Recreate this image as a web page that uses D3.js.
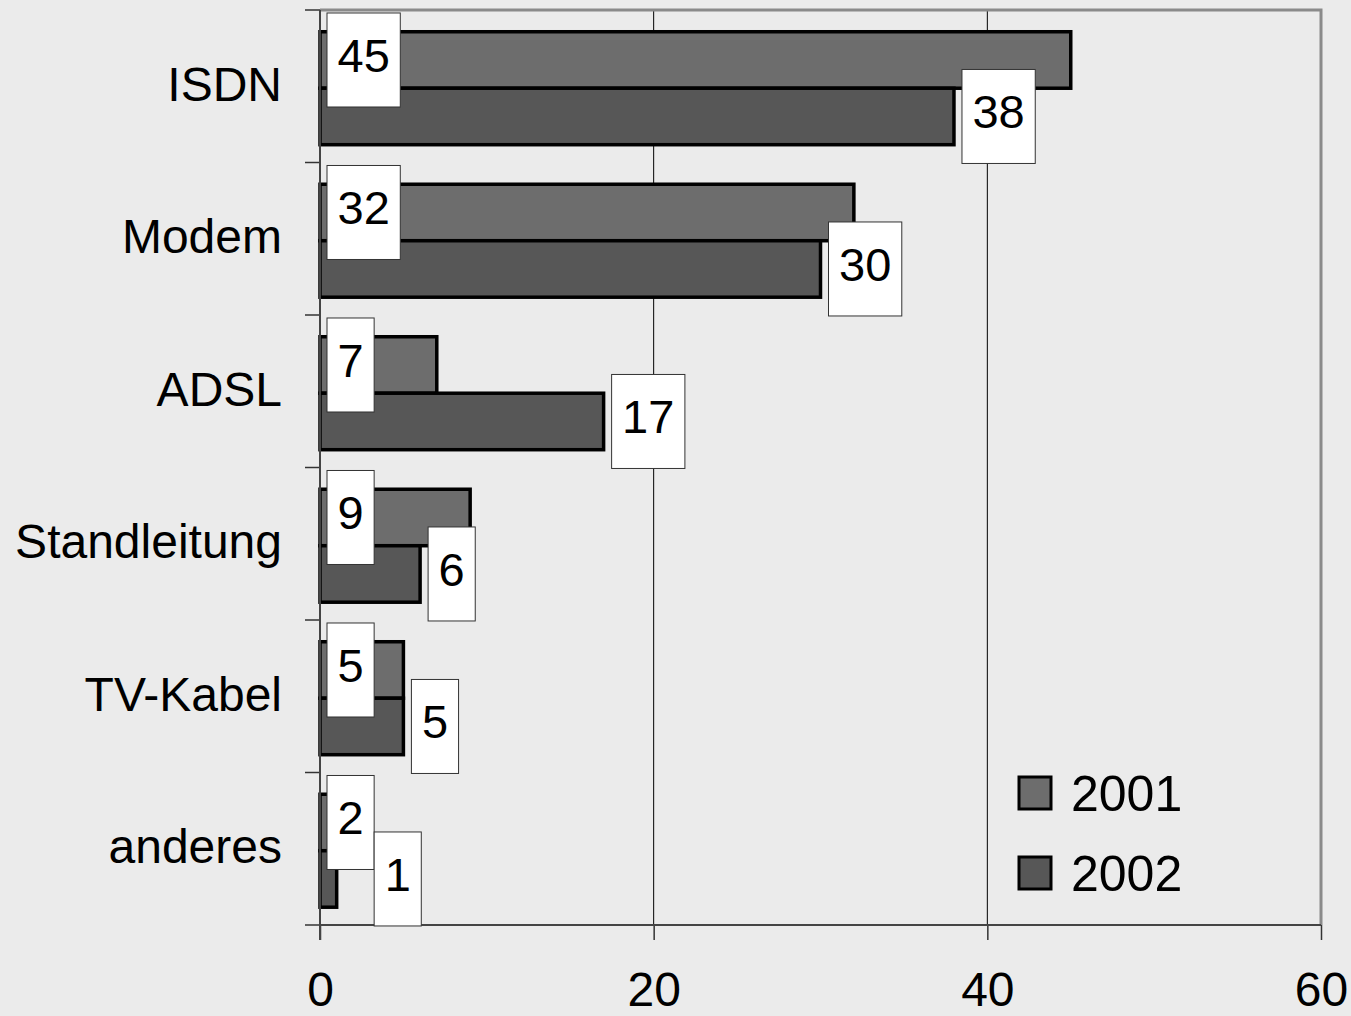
<!DOCTYPE html>
<html>
<head>
<meta charset="utf-8">
<script src="https://cdn.jsdelivr.net/npm/d3@7"></script>
<style>
  body { margin: 0; background: #ebebeb; }
  svg { display: block; font-family: Arial, "Liberation Sans", sans-serif; }
</style>
</head>
<body>
<svg width="1351" height="1016"></svg>
<script>
// data
var categories = ["ISDN", "Modem", "ADSL", "Standleitung", "TV-Kabel", "anderes"];
var years = ["2001", "2002"];
var values2001 = [45, 32, 7, 9, 5, 2];
var values2002 = [38, 30, 17, 6, 5, 1];
var xTicks = [0, 20, 40, 60];
var colors = ["#6d6d6d", "#575757"];

var svg = d3.select("svg"),
    margin = { top: 10, right: 30, bottom: 91, left: 320 },
    width = 1321 - margin.left,
    height = 925 - margin.top,
    g = svg.append("g").attr("transform", "translate(" + margin.left + "," + margin.top + ")");

var data = categories.map(function (c, i) {
    return { cat: c, "2001": values2001[i], "2002": values2002[i] };
});

var x = d3.scaleLinear().domain([0, 60]).range([0, width]);
var y = d3.scaleBand().domain(categories).range([0, height]);
var y1 = d3.scaleBand().domain(years).range([0, y.bandwidth()]).paddingOuter(0.35).align(0.55);
var z = d3.scaleOrdinal().domain(years).range(colors);

// grid lines
g.append("g").selectAll("line")
    .data(xTicks.filter(function (d) { return d > 0 && d < 60; }))
    .enter().append("line")
    .attr("x1", x).attr("x2", x)
    .attr("y1", 0).attr("y2", height)
    .attr("stroke", "#000").attr("stroke-width", 1);

// plot border top/right
g.append("path")
    .attr("d", "M0,0H" + width + "V" + height)
    .attr("fill", "none").attr("stroke", "#8a8a8a").attr("stroke-width", 3);

// bars
var groups = g.append("g").selectAll("g")
    .data(data)
    .enter().append("g")
    .attr("transform", function (d) { return "translate(0," + y(d.cat) + ")"; });

groups.selectAll("rect")
    .data(function (d) { return years.map(function (k) { return { key: k, value: d[k] }; }); })
    .enter().append("rect")
    .attr("x", x(0))
    .attr("y", function (d) { return y1(d.key); })
    .attr("width", function (d) { return x(d.value) - x(0); })
    .attr("height", y1.bandwidth())
    .attr("fill", function (d) { return z(d.key); })
    .attr("stroke", "#000")
    .attr("stroke-width", 3.5);

// category ticks + labels
g.append("g").selectAll("line")
    .data(d3.range(categories.length + 1))
    .enter().append("line")
    .attr("x1", -15).attr("x2", 0)
    .attr("y1", function (i) { return i * y.step(); })
    .attr("y2", function (i) { return i * y.step(); })
    .attr("stroke", "#333").attr("stroke-width", 1.5);

g.append("g").selectAll("text")
    .data(categories)
    .enter().append("text")
    .attr("x", -38)
    .attr("y", function (d) { return y(d) + y.bandwidth() / 2; })
    .attr("dy", "0.3em")
    .attr("text-anchor", "end")
    .attr("font-size", 48)
    .text(function (d) { return d; });

var axisX = g.append("g")
    .attr("transform", "translate(0," + height + ")")
    .call(d3.axisBottom(x).tickValues(xTicks).tickSize(15).tickPadding(32).tickSizeOuter(0));
axisX.select(".domain").remove();
axisX.selectAll(".tick line").attr("stroke", "#333").attr("stroke-width", 1.5);
axisX.selectAll(".tick text").attr("font-size", 48).attr("fill", "#000")
    .attr("font-family", "Arial, 'Liberation Sans', sans-serif");

g.append("line").attr("x1", 0).attr("x2", width).attr("y1", height).attr("y2", height)
    .attr("stroke", "#444").attr("stroke-width", 2);
g.append("line").attr("x1", 0).attr("x2", 0).attr("y1", 0).attr("y2", height + 15)
    .attr("stroke", "#444").attr("stroke-width", 2);

// data labels
var labelH = 94, padX = 10.5;
data.forEach(function (d) {
    var firstRight = 0;
    years.forEach(function (k, j) {
        var lab = g.append("g");
        var rect = lab.append("rect").attr("fill", "#fff").attr("stroke", "#333").attr("stroke-width", 1);
        var txt = lab.append("text").attr("font-size", 47).attr("text-anchor", "middle").text(d[k]);
        var w = txt.node().getComputedTextLength() + 2 * padX;
        var cy = y(d.cat) + y1(k) + y1.bandwidth() / 2;
        var bx;
        if (j === 0) {
            bx = x(0) + 7;
            firstRight = bx + w;
        } else {
            // push right when it would collide with the 2001 label
            bx = Math.max(x(d[k]) + 8, firstRight);
        }
        rect.attr("x", bx).attr("y", cy - labelH / 2).attr("width", w).attr("height", labelH);
        txt.attr("x", bx + w / 2).attr("y", cy + 12);
    });
});

// legend
var legend = g.append("g").selectAll("g")
    .data(years)
    .enter().append("g")
    .attr("transform", function (d, i) { return "translate(" + (1019 - margin.left) + "," + (777 - margin.top + i * 80) + ")"; });

legend.append("rect")
    .attr("width", 32).attr("height", 32)
    .attr("fill", z).attr("stroke", "#000").attr("stroke-width", 3);

legend.append("text")
    .attr("x", 52).attr("y", 16).attr("dy", "0.36em")
    .attr("font-size", 50)
    .text(function (d) { return d; });
</script>
</body>
</html>
